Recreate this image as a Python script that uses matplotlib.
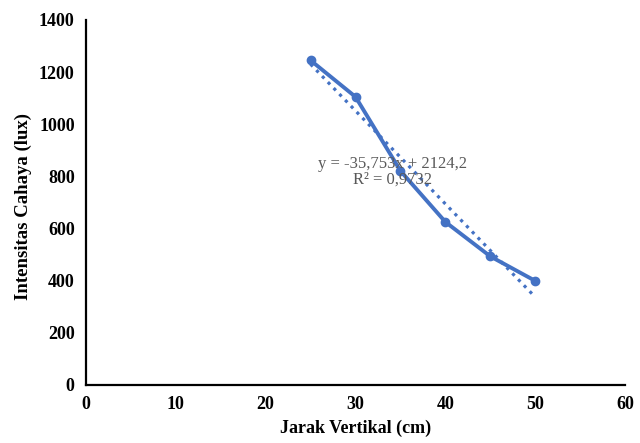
import numpy as np
import matplotlib
matplotlib.use("Agg")
import matplotlib.pyplot as plt

# data
jarak = [25, 30, 35, 40, 45, 50]
intensitas = [1245, 1105, 821, 625, 493, 399]
# linear trendline coefficients shown on the chart
slope = -35.753
intercept = 2124.2
x_ticks = [0, 10, 20, 30, 40, 50, 60]
y_ticks = [0, 200, 400, 600, 800, 1000, 1200, 1400]

plt.rcParams['font.family'] = ['Liberation Serif', 'DejaVu Serif']

fig = plt.figure(figsize=(6.4, 4.43), dpi=100)
ax = fig.add_axes([0.134, 0.131, 0.843, 0.824])

color = '#4472C4'
ax.plot(jarak, intensitas, color=color, linewidth=2.8, marker='o', markersize=6)

xt = np.array([jarak[0], jarak[-1]])
ax.plot(xt, slope * xt + intercept, color=color, linewidth=2.3, linestyle=(0, (1, 1.6)))

ax.set_xlim(0, 60)
ax.set_ylim(0, 1400)
ax.set_xticks(x_ticks)
ax.set_yticks(y_ticks)
ax.tick_params(length=0, labelsize=13, pad=8)
for lbl in ax.get_xticklabels() + ax.get_yticklabels():
    lbl.set_fontweight('bold')

for s in ['top', 'right']:
    ax.spines[s].set_visible(False)
for s in ['left', 'bottom']:
    ax.spines[s].set_linewidth(1.6)
    ax.spines[s].set_color('black')

ax.set_xlabel('Jarak Vertikal (cm)', fontsize=13, fontweight='bold')
ax.xaxis.set_label_coords(0.5, -0.095)
ax.set_ylabel('Intensitas Cahaya (lux)', fontsize=13.5, fontweight='bold')
ax.yaxis.set_label_coords(-0.1, 0.49)

ax.text(34.06, 817, 'y = -35,753x + 2124,2\nR² = 0,9732', color='#595959',
        fontsize=12, ha='center', va='center', multialignment='center',
        linespacing=0.95)

fig.savefig('out.png', dpi=100)
